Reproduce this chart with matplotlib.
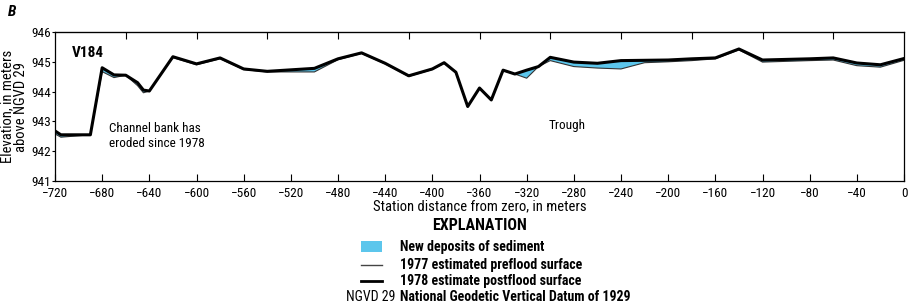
import matplotlib
matplotlib.use('Agg')
import matplotlib.pyplot as plt
from matplotlib.patches import Rectangle
from matplotlib.lines import Line2D
import numpy as np

plt.rcParams['font.family'] = ['Roboto Condensed', 'Liberation Sans Narrow', 'DejaVu Sans Condensed',
                               'Roboto', 'DejaVu Sans']

# station distance, m
station = [-720, -715, -690, -680, -670, -660, -650, -645, -640, -620, -600, -580,
           -560, -540, -500, -480, -460, -440, -420, -400, -390, -380, -370, -360,
           -350, -340, -330, -320, -310, -300, -280, -260, -240, -220, -200, -180,
           -160, -140, -120, -80, -60, -40, -20, 0]
# 1978 estimate postflood surface
post_1978 = [942.68, 942.55, 942.55, 944.80, 944.56, 944.55, 944.30, 944.05, 944.02, 945.17, 944.93, 945.13,
             944.76, 944.68, 944.78, 945.10, 945.30, 944.95, 944.53, 944.76, 944.97, 944.65, 943.50, 944.12,
             943.72, 944.72, 944.59, 944.72, 944.84, 945.15, 944.99, 944.95, 945.04, 945.05, 945.06, 945.10,
             945.13, 945.43, 945.06, 945.10, 945.13, 944.96, 944.90, 945.11]
# 1977 estimated preflood surface
pre_1977 = [942.58, 942.47, 942.55, 944.67, 944.47, 944.55, 944.20, 943.96, 944.02, 945.14, 944.90, 945.10,
            944.74, 944.66, 944.66, 945.07, 945.28, 944.93, 944.51, 944.74, 944.95, 944.63, 943.48, 944.10,
            943.70, 944.70, 944.59, 944.45, 944.84, 945.04, 944.84, 944.79, 944.76, 944.97, 945.00, 945.04,
            945.10, 945.40, 944.99, 945.04, 945.06, 944.87, 944.82, 945.05]

xticks = list(range(-720, 1, 40))
yticks = [941, 942, 943, 944, 945, 946]

fig = plt.figure(figsize=(9.08, 3.08), dpi=100)
ax = fig.add_axes([55/908, 1-181/308, 849/908, 149/308])

st = np.array(station)
post = np.array(post_1978)
pre = np.array(pre_1977)
ax.fill_between(st, pre, post, where=post >= pre, interpolate=True,
                facecolor='#5cc6ec', edgecolor='none', zorder=1)
ax.plot(st, pre, color='#333333', lw=0.8, zorder=2)
ax.plot(st, post, color='black', lw=2.2, zorder=3)

ax.set_xlim(-720, 0)
ax.set_ylim(941, 946)
ax.set_xticks(xticks)
ax.set_xticklabels([str(t).replace('-', '\u2212') for t in xticks])
ax.set_yticks(yticks)
ax.tick_params(axis='x', direction='in', length=5, labelsize=9.5, pad=4, width=0.8)
ax.tick_params(axis='y', direction='out', length=2, labelsize=9.5, pad=1, width=0.8)
for s in ax.spines.values():
    s.set_linewidth(0.9)

# top ticks every 60 m
top = ax.secondary_xaxis('top')
top.set_xticks(list(range(-660, 0, 60)))
top.set_xticklabels([])
top.tick_params(direction='in', length=5, width=0.8)

ax.set_xlabel('Station distance from zero, in meters', fontsize=10.5, labelpad=0)
ax.set_ylabel('Elevation, in meters\nabove NGVD 29', fontsize=10.5, labelpad=2, linespacing=1.0)

ax.text(-692, 945.3, 'V184', fontsize=11, fontweight='bold', ha='center', va='center')
ax.text(-674, 942.5, 'Channel bank has\neroded since 1978', fontsize=9.5, ha='left', va='center',
        linespacing=1.2)
ax.text(-301, 942.85, 'Trough', fontsize=9.5, ha='left', va='center')

fig.text(8/908, 1-12/308, 'B', fontsize=11, fontweight='bold', fontstyle='italic', ha='left', va='center')

# explanation
fig.text(479/908, 1-225/308, 'EXPLANATION', fontsize=11.5, fontweight='bold', ha='center', va='center')
fig.patches.append(Rectangle((361/908, 1-252/308), 21/908, 11/308, transform=fig.transFigure,
                             facecolor='#5cc6ec', edgecolor='none'))
fig.lines.append(Line2D([361/908, 382/908], [1-265/308, 1-265/308], transform=fig.transFigure,
                        color='#444444', lw=1.0))
fig.lines.append(Line2D([361/908, 382/908], [1-281/308, 1-281/308], transform=fig.transFigure,
                        color='black', lw=2.0))
items = ['New deposits of sediment', '1977 estimated preflood surface',
         '1978 estimate postflood surface', 'National Geodetic Vertical Datum of 1929']
for lab, yp in zip(items, [246.5, 265, 281, 297]):
    fig.text(400/908, 1-yp/308, lab, fontsize=10, fontweight='bold', ha='left', va='center')
fig.text(395/908, 1-297/308, 'NGVD 29', fontsize=10, ha='right', va='center')

fig.savefig('out.png', dpi=100)
